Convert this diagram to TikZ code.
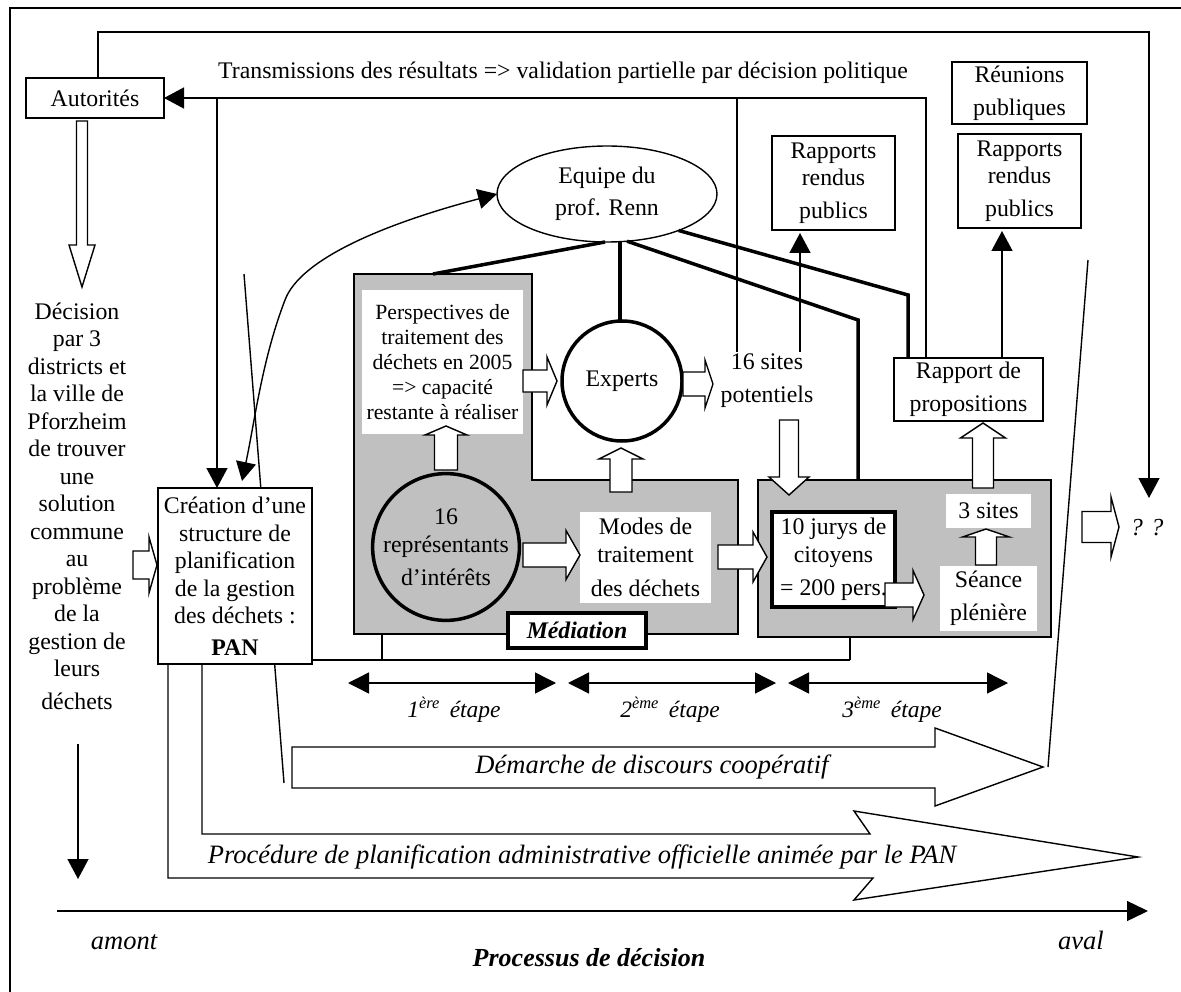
\documentclass[tikz,border=0pt]{standalone}
\usepackage{fontspec}
\setmainfont{Liberation Serif}
\usetikzlibrary{arrows.meta,shapes.geometric}
\definecolor{grayc}{RGB}{192,192,192}
\newcommand\fN{\fontsize{23.8}{27.5}\selectfont}
\newcommand\fS{\fontsize{21.7}{25}\selectfont}
\newcommand\fI{\fontsize{26.5}{30}\selectfont\itshape}
\newcommand\myharrow[6]{\draw[blk] (#1,#4-#5) -- (#2,#4-#5) -- (#2,#4-#6) -- (#3,#4) -- (#2,#4+#6) -- (#2,#4+#5) -- (#1,#4+#5) -- cycle;}
\newcommand\myvarrow[6]{\draw[blk] (#1-#5,#2) -- (#1-#5,#3) -- (#1-#6,#3) -- (#1,#4) -- (#1+#6,#3) -- (#1+#5,#3) -- (#1+#5,#2) -- cycle;}
\begin{document}
\begin{tikzpicture}[x=1pt,y=-1pt,
  every node/.style={font=\fN, inner sep=0pt, outer sep=0pt},
  ln/.style={line width=1.4pt},
  box/.style={draw, line width=1.4pt, fill=white, align=center},
  wbox/.style={fill=white, align=center},
  thk/.style={line width=3.5pt},
  blk/.style={draw, line width=1.4pt, fill=white, line join=miter},
  tip/.style={-{Triangle[length=20pt,width=21pt]}},
  dtip/.style={{Triangle[length=21pt,width=21pt]}-{Triangle[length=21pt,width=21pt]}}
]
\useasboundingbox (0,0) rectangle (1181,992);
\draw[ln] (10,8) rectangle (1181.7,992.7);

% slanted frame lines
\coordinate (sl1a) at (244,274); \coordinate (sl1b) at (284,783);
\coordinate (sl2a) at (1088,260); \coordinate (sl2b) at (1048,767);
\draw[ln] (sl1a) -- (sl1b);
\draw[ln] (sl2a) -- (sl2b);

% grey region of the mediation
\draw[ln, fill=grayc] (354,274) -- (532,274) -- (532,480) -- (738,480) -- (738,634) -- (354,634) -- cycle;
\coordinate (g1top) at (433,274);
\node[draw, line width=1.4pt, fill=grayc, minimum width=293pt, minimum height=157pt] (g3) at (904.5,558.5) {};

% texts and boxes
\node (tr) at (563,73) {Transmissions des résultats => validation partielle par décision politique};
\node[box, minimum width=138pt, minimum height=40pt] (aut) at (95,98) {Autorités};
\node[align=center] (dec) at (77,506) {Décision\\par 3\\districts et\\la ville de\\Pforzheim\\de trouver\\une\\solution\\commune\\au\\problème\\de la\\gestion de\\leurs\\[5pt]déchets};
\node[box, minimum width=154pt, minimum height=176pt] (pan) at (235,576) {Création d’une\\structure de\\planification\\de la gestion\\des déchets :\\[4pt]\textbf{PAN}};
\node[box, minimum width=123pt, minimum height=94pt] (rap1) at (833.5,183) {Rapports\\rendus\\[5.5pt]publics};
\node[box, minimum width=135pt, minimum height=62pt] (reu) at (1019.5,93) {Réunions\\[5.5pt]publiques};
\node[box, minimum width=123pt, minimum height=94pt] (rap2) at (1019.5,181) {Rapports\\rendus\\[5.5pt]publics};
\node[box, minimum width=149pt, minimum height=63pt] (prop) at (968.5,389.5) {Rapport de\\[5.5pt]propositions};
\node[draw, ellipse, line width=1.4pt, fill=white, minimum width=220pt, minimum height=96pt, align=center] (ell) at (607,194) {Equipe du\\[4.5pt]prof. Renn};
\node[wbox, font=\fS, minimum width=161pt, minimum height=144pt] (per) at (442.5,362) {Perspectives de\\traitement des\\déchets en 2005\\=> capacité\\restante à réaliser};
\node[circle, draw, line width=3.5pt, fill=white, minimum size=120pt] (exp) at (622,381) {Experts};
\node[circle, draw, line width=3.5pt, fill=grayc, minimum size=146pt, align=center] (rep) at (446,547) {16\\représentants\\[5.5pt]d’intérêts};
\node[wbox, minimum width=131pt, minimum height=91pt] (mod) at (645.5,557.5) {Modes de\\traitement\\[7pt]des déchets};
\node[align=center] (s16) at (767,381) {16 sites\\[5.5pt]potentiels};
\node[draw, line width=3.5pt, fill=white, minimum width=123pt, minimum height=95pt, align=center] (jur) at (833.5,559.5) {10 jurys de\\citoyens\\[6pt]= 200 pers.};
\node[wbox, minimum width=97pt, minimum height=65pt] (sea) at (988.5,598.5) {Séance\\[5.5pt]plénière};
\node[wbox, minimum width=85pt, minimum height=34pt] (s3) at (988.5,511) {3 sites};
\node[draw, line width=3.5pt, fill=white, minimum width=138pt, minimum height=35pt, font=\fN\bfseries\itshape] (med) at (577,630.5) {Médiation};
\node[font=\fontsize{24.5}{28}\selectfont\itshape] (qq) at (1147,528) {? ?};

% link line under the grey regions
\draw[ln] ([yshift=4pt]pan.south east) -- (382,660) -- (850,660);
\draw[ln] (382,634) -- (382,660);
\draw[ln] (850,660) -- (g3.south -| 850,0);

% thick links from the team
\draw[thk] ([xshift=-2pt]ell.south) -- (g1top);
\draw[line width=4.2pt] ([xshift=-2pt]exp.north) -- ([xshift=-2pt]exp.north |- ell.south);
\draw[thk, line join=miter] (ell.-67) -- (858,320) -- (g3.north -| 858,0);
\draw[thk, line join=miter] (ell.-27) -- (908,295) -- ([xshift=-60.5pt]prop.north);

% thin connectors
\draw[ln, tip] ([xshift=3pt]aut.north) -- (98,32) -- (1149,32) -- (1149,498);
\draw[ln, tip] ([xshift=-42.5pt]prop.north) -- (926,98) -- (aut.east);
\draw[ln, tip] (217,98) -- ([xshift=-18pt]pan.north);
\draw[ln] (737,98) -- (737,352);
\draw[ln, tip, shorten >=3pt] (800,352) -- ([xshift=-33.5pt]rap1.south);
\draw[ln, tip, shorten >=3pt] ([xshift=33.5pt]prop.north) -- ([xshift=-17.5pt]rap2.south);
\draw[ln, {Triangle[length=19pt,width=20pt]}-{Triangle[length=19pt,width=20pt]}]
  ([xshift=7pt,yshift=7pt]pan.north) .. controls (255,420) and (262,360) .. (285,300)
  .. controls (300,260) and (380,225) .. (ell.west);

% block arrows
\myharrow{133}{149}{157}{565}{14}{28}
\myharrow{523}{547}{557}{381}{11}{24}
\myharrow{683}{705}{713}{384}{12}{24}
\myharrow{523}{566}{580}{555}{12}{24.5}
\myharrow{718}{753}{767}{557}{12}{25}
\myharrow{885}{913}{924}{595}{12}{24.5}
\myharrow{1082}{1111}{1119}{527}{15.5}{30}
\myvarrow{446}{470}{435}{426}{11.5}{21}
\myvarrow{621}{492}{459}{448}{11}{22}
\myvarrow{986}{565}{537}{529}{10.5}{23.5}
\myvarrow{983}{488}{438}{423}{10.5}{22.5}
\myvarrow{789}{420}{477}{495}{9.5}{20}
\myvarrow{82}{121}{245}{287}{5.5}{13}

% stages
\draw[ln, dtip] (348,683) -- (556,683);
\draw[ln, dtip] (568,683) -- (776,683);
\draw[ln, dtip] (788,683) -- (1008,683);
\node[font=\fontsize{23.5}{27}\selectfont\itshape] (e1) at (454,710) {1\textsuperscript{ère}\, étape};
\node[font=\fontsize{23.5}{27}\selectfont\itshape] (e2) at (670,710) {2\textsuperscript{ème}\, étape};
\node[font=\fontsize{23.5}{27}\selectfont\itshape] (e3) at (892,710) {3\textsuperscript{ème}\, étape};

% big process arrows
\draw[ln, line join=miter] (292,747) -- (935,747) -- (935,728) -- (1043,767) -- (935,806) -- (935,788) -- (292,788) -- cycle;
\node[font=\fI] (dem) at (652,767) {Démarche de discours coopératif};
\draw[ln, line join=miter] (168,664) -- (168,878) -- (873,878) -- (854,900) -- (1138,857) -- (854,811) -- (870,834) -- (202,834) -- (202,664);
\node[font=\fI] (proc) at (582,857) {Procédure de planification administrative officielle animée par le PAN};

% decision axis
\draw[ln, tip] (78,744) -- (78,879);
\draw[ln, -{Triangle[length=21pt,width=20pt]}] (57,911) -- (1148,911);
\node[font=\fI] (amont) at (124,942) {amont};
\node[font=\fI] (aval) at (1081,940) {aval};
\node[font=\fontsize{26}{30}\selectfont\bfseries\itshape] (proc2) at (589,958) {Processus de décision};
\end{tikzpicture}
\end{document}
